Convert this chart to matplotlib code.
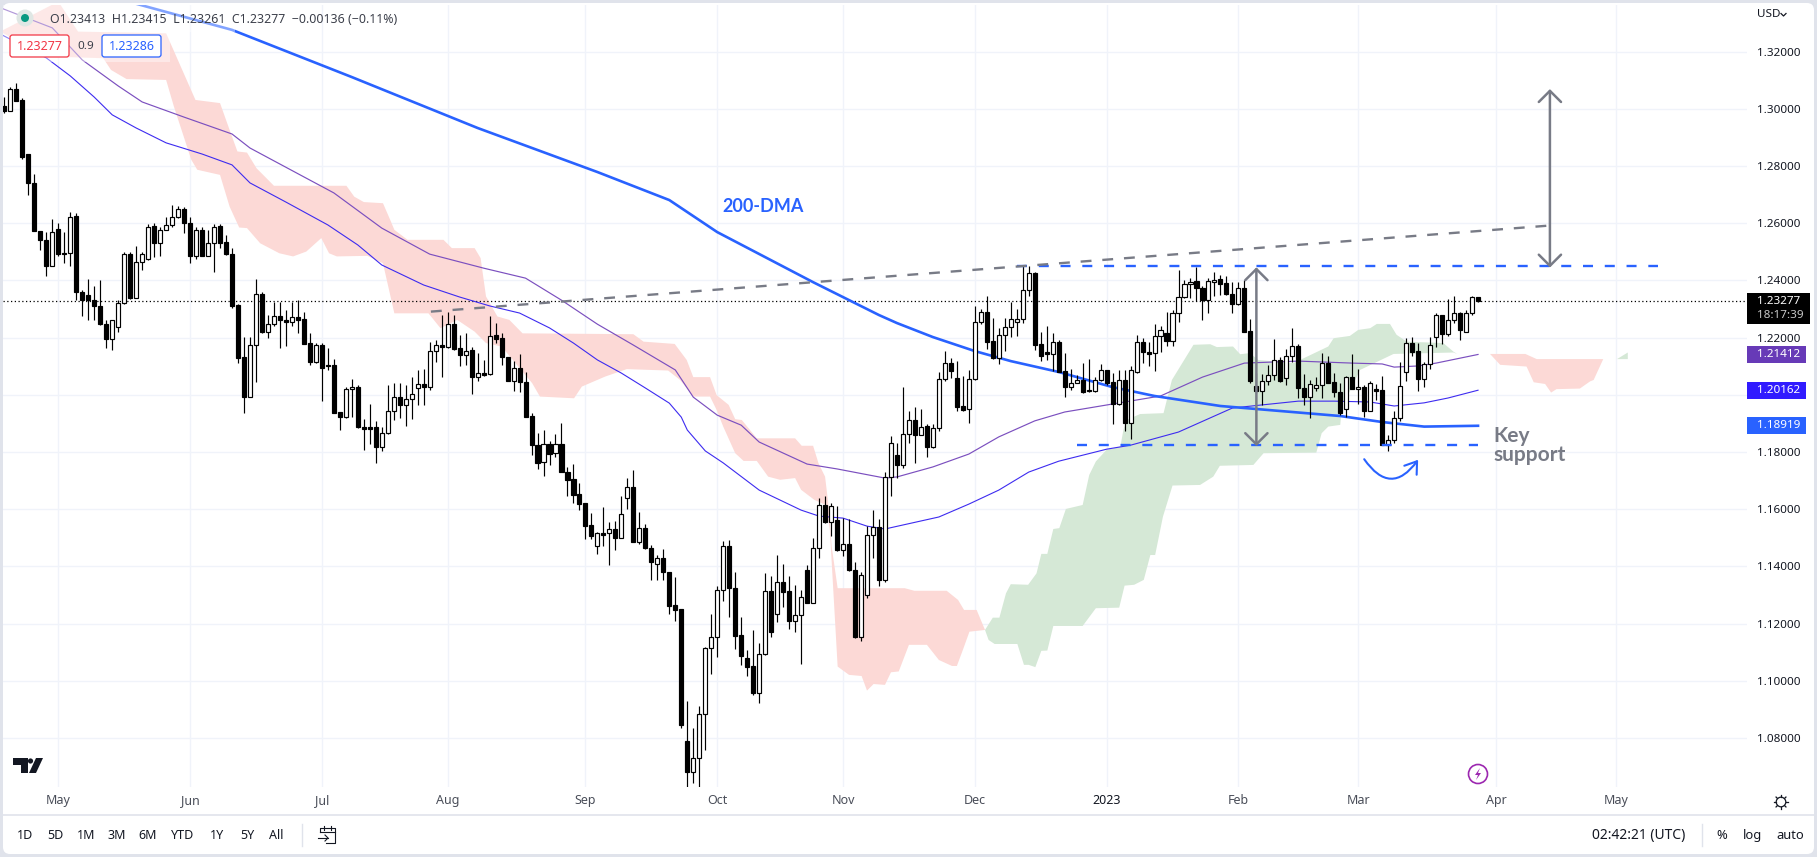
import numpy as np
import matplotlib
matplotlib.use("Agg")
import matplotlib.pyplot as plt
from matplotlib.patches import Rectangle, FancyBboxPatch, Circle, Polygon

plt.rcParams['font.family'] = ['Noto Sans', 'DejaVu Sans']

# daily candles, index 0 is 2 May 2022
first_bar = -9
opens = [1.3010,1.2994,1.3069,1.3031,1.2843,1.2741,1.2572,1.2542,1.2452,1.2579,
 1.2495,1.2495,1.2625,1.2360,1.2348,1.2330,1.2311,1.2248,1.2197,1.2236,
 1.2320,1.2492,1.2337,1.2466,1.2475,1.2591,1.2530,1.2577,1.2595,1.2623,
 1.2650,1.2600,1.2484,1.2577,1.2487,1.2530,1.2591,1.2534,1.2492,1.2315,
 1.2132,1.1994,1.2174,1.2351,1.2218,1.2247,1.2274,1.2262,1.2256,1.2271,
 1.2264,1.2181,1.2116,1.2174,1.2105,1.2105,1.1939,1.1921,1.2020,1.2028,
 1.1887,1.1887,1.1887,1.1819,1.1866,1.1945,1.1992,1.1963,1.1985,1.2023,
 1.2037,1.2026,1.2153,1.2176,1.2169,1.2248,1.2164,1.2140,1.2157,1.2064,
 1.2076,1.2072,1.2208,1.2198,1.2132,1.2050,1.2093,1.2044,1.1926,1.1825,
 1.1765,1.1829,1.1796,1.1829,1.1732,1.1705,1.1653,1.1621,1.1545,1.1470,
 1.1516,1.1516,1.1530,1.1499,1.1639,1.1677,1.1487,1.1534,1.1464,1.1408,
 1.1429,1.1380,1.1266,1.1250,1.0790,1.0683,1.0730,1.0883,1.1114,1.1155,
 1.1317,1.1471,1.1324,1.1161,1.1079,1.1052,1.0959,1.1093,1.1313,1.1233,
 1.1346,1.1313,1.1211,1.1229,1.1388,1.1274,1.1464,1.1614,1.1557,1.1563,
 1.1456,1.1478,1.1388,1.1155,1.1299,1.1509,1.1537,1.1351,1.1712,1.1790,
 1.1753,1.1862,1.1912,1.1858,1.1892,1.1819,1.1883,1.2055,1.2111,1.2058,
 1.1961,1.1950,1.2055,1.2254,1.2289,1.2189,1.2128,1.2208,1.2236,1.2254,
 1.2264,1.2366,1.2425,1.2177,1.2149,1.2144,1.2184,1.2084,1.2029,1.2043,
 1.2051,1.2016,1.2015,1.2051,1.2086,1.2044,1.1967,1.2052,1.1901,1.2079,
 1.2184,1.2149,1.2146,1.2205,1.2215,1.2190,1.2285,1.2341,1.2387,1.2397,
 1.2373,1.2333,1.2396,1.2404,1.2390,1.2352,1.2317,1.2373,1.2222,1.2031,
 1.2015,1.2047,1.2069,1.2121,1.2058,1.2135,1.2170,1.2023,1.1991,1.2023,
 1.2034,1.2111,1.2044,1.2009,1.1950,1.2063,1.2020,1.2027,1.1942,1.2020,
 1.2017,1.1823,1.1841,1.1918,1.2079,1.2181,1.2153,1.2054,1.2107,1.2202,
 1.2278,1.2214,1.2261,1.2285,1.2219,1.2285,1.23413]
highs = [1.3043,1.3076,1.3090,1.3037,1.2843,1.2773,1.2572,1.2569,1.2614,1.2600,
 1.2569,1.2640,1.2635,1.2367,1.2404,1.2379,1.2402,1.2262,1.2260,1.2332,
 1.2501,1.2501,1.2522,1.2501,1.2598,1.2600,1.2588,1.2623,1.2665,1.2661,
 1.2656,1.2623,1.2586,1.2586,1.2577,1.2598,1.2598,1.2559,1.2515,1.2318,
 1.2204,1.2204,1.2404,1.2361,1.2280,1.2326,1.2326,1.2297,1.2326,1.2332,
 1.2291,1.2215,1.2181,1.2181,1.2163,1.2125,1.1939,1.2029,1.2055,1.2035,
 1.1915,1.1968,1.1907,1.1889,1.2035,1.2043,1.2041,1.2035,1.2062,1.2087,
 1.2090,1.2186,1.2192,1.2280,1.2291,1.2280,1.2210,1.2215,1.2169,1.2146,
 1.2122,1.2276,1.2250,1.2215,1.2132,1.2120,1.2143,1.2079,1.1936,1.1866,
 1.1877,1.1839,1.1864,1.1903,1.1746,1.1759,1.1693,1.1621,1.1586,1.1520,
 1.1607,1.1557,1.1559,1.1647,1.1710,1.1738,1.1592,1.1549,1.1475,1.1440,
 1.1461,1.1382,1.1362,1.1250,1.0930,1.0834,1.0912,1.1120,1.1234,1.1332,
 1.1489,1.1493,1.1380,1.1225,1.1108,1.1178,1.1132,1.1376,1.1365,1.1440,
 1.1409,1.1365,1.1336,1.1316,1.1405,1.1499,1.1639,1.1647,1.1621,1.1612,
 1.1569,1.1565,1.1417,1.1382,1.1540,1.1598,1.1565,1.1729,1.1856,1.1831,
 1.2029,1.1942,1.1959,1.1951,1.1899,1.1899,1.2081,1.2154,1.2128,1.2119,
 1.2066,1.2087,1.2311,1.2300,1.2346,1.2268,1.2233,1.2268,1.2326,1.2300,
 1.2449,1.2449,1.2431,1.2221,1.2239,1.2215,1.2192,1.2146,1.2090,1.2070,
 1.2111,1.2125,1.2064,1.2107,1.2087,1.2076,1.2087,1.2087,1.2101,1.2208,
 1.2198,1.2186,1.2248,1.2241,1.2288,1.2297,1.2437,1.2402,1.2408,1.2446,
 1.2379,1.2408,1.2428,1.2419,1.2414,1.2396,1.2396,1.2402,1.2264,1.2076,
 1.2073,1.2105,1.2196,1.2134,1.2160,1.2235,1.2178,1.2073,1.2052,1.2064,
 1.2146,1.2136,1.2076,1.2041,1.2066,1.2142,1.2091,1.2035,1.2047,1.2037,
 1.2066,1.1860,1.1942,1.2114,1.2198,1.2202,1.2181,1.2116,1.2202,1.2285,
 1.2280,1.2334,1.2346,1.2291,1.2297,1.2347,1.23415]
lows = [1.2985,1.2991,1.3026,1.2826,1.2699,1.2572,1.2505,1.2414,1.2449,1.2484,
 1.2460,1.2452,1.2332,1.2276,1.2262,1.2262,1.2245,1.2165,1.2157,1.2218,
 1.2318,1.2334,1.2337,1.2437,1.2472,1.2481,1.2484,1.2577,1.2588,1.2618,
 1.2565,1.2460,1.2474,1.2484,1.2484,1.2431,1.2513,1.2489,1.2303,1.2111,
 1.1936,1.1991,1.2044,1.2215,1.2200,1.2241,1.2163,1.2172,1.2241,1.2215,
 1.2178,1.2105,1.2113,1.1977,1.2087,1.1936,1.1877,1.1918,1.1924,1.1883,
 1.1808,1.1829,1.1761,1.1805,1.1862,1.1912,1.1918,1.1892,1.1915,1.1963,
 1.1965,1.2017,1.2116,1.2064,1.2163,1.2157,1.2102,1.2105,1.2003,1.2050,
 1.2066,1.2070,1.2181,1.2105,1.2047,1.2012,1.2009,1.1924,1.1790,1.1741,
 1.1718,1.1755,1.1784,1.1732,1.1648,1.1623,1.1598,1.1496,1.1496,1.1444,
 1.1470,1.1406,1.1458,1.1499,1.1601,1.1487,1.1479,1.1460,1.1351,1.1353,
 1.1353,1.1234,1.1211,1.0834,1.0625,1.0644,1.0625,1.0759,1.1024,1.1085,
 1.1280,1.1225,1.1112,1.1054,1.1017,1.0951,1.0924,1.1091,1.1153,1.1207,
 1.1257,1.1182,1.1172,1.1059,1.1271,1.1271,1.1431,1.1551,1.1505,1.1454,
 1.1437,1.1384,1.1151,1.1141,1.1291,1.1431,1.1333,1.1347,1.1648,1.1711,
 1.1743,1.1833,1.1763,1.1858,1.1781,1.1813,1.1875,1.2047,1.2060,1.1942,
 1.1945,1.1903,1.2051,1.2248,1.2161,1.2126,1.2108,1.2155,1.2202,1.2206,
 1.2250,1.2344,1.2157,1.2120,1.2122,1.2085,1.2081,1.1994,1.2017,1.2043,
 1.2006,1.2009,1.2009,1.2050,1.2035,1.1899,1.1963,1.1875,1.1845,1.2077,
 1.2113,1.2101,1.2085,1.2150,1.2171,1.2172,1.2256,1.2338,1.2338,1.2329,
 1.2262,1.2285,1.2346,1.2350,1.2350,1.2285,1.2315,1.2221,1.2043,1.2006,
 1.1963,1.2033,1.2052,1.2044,1.2033,1.2116,1.1988,1.1965,1.1918,1.2014,
 1.1988,1.2041,1.1994,1.1930,1.1924,1.2020,1.1968,1.1924,1.1942,1.1982,
 1.1823,1.1802,1.1831,1.1907,1.2047,1.2136,1.2012,1.2029,1.2091,1.2169,
 1.2178,1.2207,1.2250,1.2192,1.2219,1.2280,1.23261]
closes = [1.2994,1.3069,1.3029,1.2833,1.2740,1.2572,1.2540,1.2452,1.2569,1.2491,
 1.2491,1.2623,1.2358,1.2330,1.2330,1.2311,1.2246,1.2197,1.2260,1.2320,
 1.2492,1.2337,1.2466,1.2492,1.2588,1.2530,1.2577,1.2595,1.2623,1.2649,
 1.2600,1.2484,1.2577,1.2487,1.2530,1.2588,1.2531,1.2492,1.2312,1.2130,
 1.1994,1.2174,1.2351,1.2218,1.2247,1.2275,1.2260,1.2256,1.2271,1.2262,
 1.2178,1.2116,1.2174,1.2093,1.2101,1.1938,1.1921,1.2020,1.2027,1.1886,
 1.1882,1.1882,1.1819,1.1866,1.1945,1.1992,1.1963,1.1985,1.2002,1.2037,
 1.2026,1.2153,1.2176,1.2169,1.2248,1.2160,1.2140,1.2155,1.2064,1.2076,
 1.2070,1.2207,1.2197,1.2132,1.2050,1.2093,1.2044,1.1924,1.1823,1.1763,
 1.1829,1.1794,1.1829,1.1732,1.1703,1.1650,1.1619,1.1543,1.1505,1.1516,
 1.1510,1.1530,1.1499,1.1583,1.1677,1.1487,1.1534,1.1463,1.1414,1.1429,
 1.1379,1.1263,1.1248,1.0846,1.0683,1.0730,1.0883,1.1114,1.1153,1.1317,
 1.1471,1.1323,1.1158,1.1088,1.1050,1.0959,1.1093,1.1313,1.1172,1.1345,
 1.1312,1.1211,1.1229,1.1292,1.1274,1.1464,1.1614,1.1557,1.1611,1.1456,
 1.1478,1.1386,1.1154,1.1369,1.1509,1.1537,1.1351,1.1712,1.1831,1.1753,
 1.1862,1.1912,1.1858,1.1887,1.1819,1.1883,1.2055,1.2111,1.2085,1.1959,
 1.1947,1.2055,1.2254,1.2289,1.2186,1.2128,1.2208,1.2236,1.2264,1.2264,
 1.2366,1.2425,1.2175,1.2137,1.2144,1.2184,1.2081,1.2029,1.2043,1.2051,
 1.2010,1.2012,1.2051,1.2086,1.2041,1.1967,1.2051,1.1901,1.2086,1.2184,
 1.2149,1.2144,1.2205,1.2226,1.2190,1.2285,1.2341,1.2387,1.2396,1.2372,
 1.2333,1.2397,1.2403,1.2386,1.2351,1.2317,1.2373,1.2221,1.2049,1.2015,
 1.2047,1.2069,1.2121,1.2047,1.2135,1.2170,1.2023,1.1991,1.2037,1.2034,
 1.2111,1.2043,1.2009,1.1938,1.2063,1.2020,1.2027,1.1942,1.2041,1.2015,
 1.1823,1.1841,1.1918,1.2030,1.2181,1.2151,1.2054,1.2107,1.2174,1.2278,
 1.2214,1.2261,1.2285,1.2228,1.2285,1.2341,1.23277]

# moving averages
ma200_x = [12,29,49,70,90,96,102,110,126,137,140,146,153,159,167,176,183,194,206,214,221,228,237]
ma200_y = [1.3373,1.3276,1.3111,1.2933,1.2779,1.2730,1.2681,1.2569,1.2394,1.2279,1.2251,1.2202,1.2153,
           1.2118,1.2080,1.2027,1.1996,1.1961,1.1940,1.1926,1.1905,1.1889,1.18919]
ma100_x = [-10,-1,4,10,14,21,29,32,41,46,54,62,71,78,84,90,96,103,106,110,114,117,125,130,138,140,
           146,152,157,163,168,176,184,191,198,207,216,221,223,227,230,237]
ma100_y = [1.3356,1.3283,1.3171,1.3080,1.3024,1.2971,1.2912,1.2863,1.2762,1.2706,1.2583,1.2492,
           1.2443,1.2408,1.2331,1.2247,1.2174,1.2087,1.1992,1.1929,1.1894,1.1835,1.1758,1.1741,
           1.1709,1.1713,1.1748,1.1793,1.1853,1.1909,1.1940,1.1968,1.1996,1.2062,1.2111,1.2118,
           1.2111,1.2108,1.2097,1.2101,1.2111,1.21412]
ma50_x = [-10,-2,2,6,9,13,18,24,29,32,38,45,50,54,61,67,72,77,82,86,90,94,98,102,104,105,108,111,
          117,124,127,131,135,138,147,152,157,162,167,175,179,187,196,207,213,219,223,228,232,237]
ma50_y = [1.3265,1.3178,1.3115,1.3041,1.2979,1.2933,1.2881,1.2842,1.2804,1.2741,1.2674,1.2594,
          1.2524,1.2454,1.2384,1.2342,1.2311,1.2286,1.2234,1.2181,1.2122,1.2076,1.2024,1.1971,
          1.1922,1.1877,1.1804,1.1762,1.1667,1.1597,1.1576,1.1569,1.1541,1.1531,1.1573,1.1618,
          1.1667,1.1730,1.1768,1.1810,1.1824,1.1870,1.1954,1.1978,1.1978,1.1975,1.1961,1.1972,
          1.1989,1.20162]

# ichimoku cloud outlines
red1_up_x = [0,3.3,18,21.3,22.9,27,28.6,29.9,31.5,33.1,36,48.1,49.4,51,54.2,55.4,56.1,58.3,64.3,65.7,
             69.5,70.5,71.4,73.3,75.3,77.5,90.4,96,97.7,102.9,104.9,106,108.8,109.9,111.9,113,114.1,
             116.6,123,124.1,126,126.9,128,128.6,129.1,130.1,141.3,142.9,148.3,150.2,151.2,153.3,154.7]
red1_up_y = [1.3375,1.3270,1.3264,1.3107,1.3031,1.3020,1.2926,1.2851,1.2847,1.2792,1.2731,1.2731,1.2693,
             1.2674,1.2670,1.2612,1.2577,1.2542,1.2542,1.2513,1.2513,1.2478,1.2344,1.2274,1.2262,1.2215,
             1.2213,1.2212,1.2186,1.2178,1.2122,1.2062,1.2062,1.1999,1.1965,1.1915,1.1912,1.1848,1.1848,
             1.1822,1.1822,1.1761,1.1714,1.1609,1.1470,1.1324,1.1324,1.1315,1.1315,1.1283,1.1248,1.1248,
             1.1178]
red1_lo_x = [-9.7,-2,7.5,8.8,11.4,18,19.3,22.2,23.2,27,28.6,30.2,31.5,33.7,36.9,39.2,41.4,43.9,45.2,46.5,
             51.6,54.2,56.1,61.8,63.8,66.6,69.5,71.4,74,79.1,80.4,86.1,87.4,91.3,94.9,101.8,103.8,106,
             108.8,109.9,111,113,114.4,116.6,118.5,120.5,123,124,126.2,128.1,128.8,130.1,132,134.1,135,
             136.1,138,139,140.3,142,145,147,149.2,150,151,152.1,154.7]
red1_lo_y = [1.3270,1.3183,1.3177,1.3136,1.3104,1.3101,1.3008,1.2822,1.2787,1.2769,1.2658,1.2585,1.2583,
             1.2530,1.2495,1.2484,1.2501,1.2548,1.2495,1.2484,1.2486,1.2460,1.2285,1.2285,1.2233,1.2262,
             1.2221,1.2181,1.2169,1.2041,1.1994,1.1988,1.2029,1.2064,1.2090,1.2085,1.2052,1.1994,1.1994,
             1.1947,1.1889,1.1796,1.1769,1.1769,1.1714,1.1703,1.1709,1.1668,1.1633,1.1615,1.1528,1.1050,
             1.1021,1.1017,1.0966,1.0989,1.0986,1.1030,1.1033,1.1126,1.1126,1.1073,1.1052,1.1052,1.1108,
             1.1172,1.1178]
green_up_x = [154.7,156,157.1,158.2,159,161.9,163.3,164.1,165.1,166.1,167.1,168.2,171,172.1,173.2,175,177.3,
              177.8,178.3,180.6,184.5,185.9,189.5,192.3,193.4,196.1,197.3,198.9,200.3,206.2,212,212.9,215.6,
              217,219,220.1,222.3,223.4,225.1,231.2,232.9,233.5]
green_up_y = [1.1178,1.1221,1.1221,1.1306,1.1338,1.1336,1.1376,1.1444,1.1444,1.1531,1.1534,1.1601,1.1615,
              1.1720,1.1767,1.1808,1.1819,1.1877,1.1912,1.1933,1.1936,1.2052,1.2175,1.2177,1.2167,1.2169,
              1.2142,1.2146,1.2122,1.2111,1.2169,1.2198,1.2206,1.2227,1.2233,1.2248,1.2248,1.2210,1.2186,
              1.2181,1.2151,1.2143]
green_lo_x = [154.7,155.3,156.3,160.1,161.2,162,163.1,164.1,165.1,166.1,171,173.2,177.1,178,179.6,181.2,182.3,
              183.1,184.4,186,190.6,192.8,193.9,199.5,201.2,210,210.9,212,214,214.3,215.6,217.3,222.9,232.9,233.5]
green_lo_y = [1.1178,1.1143,1.1129,1.1129,1.1056,1.1056,1.1048,1.1105,1.1106,1.1192,1.1192,1.1254,1.1256,
              1.1333,1.1336,1.1353,1.1440,1.1440,1.1574,1.1683,1.1685,1.1714,1.1752,1.1755,1.1796,1.1798,
              1.1866,1.1889,1.1895,1.1971,1.2012,1.2087,1.2143,1.2148,1.2143]
red2_x = [233.5,234.6,244.9,246.8,257.9,256.3,255.7,254,250.1,249.2,248.2,246.3,245.1,240.7,239]
red2_y = [1.2143,1.2143,1.2143,1.2125,1.2125,1.2052,1.2047,1.2022,1.2020,1.2008,1.2038,1.2044,1.2099,1.2105,1.2143]
green2_x = [260.2,262,262]
green2_y = [1.2125,1.2148,1.2125]

# axis ticks
price_ticks = [1.08,1.10,1.12,1.14,1.16,1.18,1.20,1.22,1.24,1.26,1.28,1.30,1.32]
month_pos = [0,22,44,65,88,110,131,153,175,197,217,240,260]
month_names = ['May','Jun','Jul','Aug','Sep','Oct','Nov','Dec','2023','Feb','Mar','Apr','May']

# drawn levels
resistance = 1.2449
support = 1.1825
last_price = 1.23277
ma_last = [1.21412, 1.20162, 1.18919]
ma_last_colors = ['#673ab7', '#311bff', '#2962ff']

TXT = '#131722'
GRAY = '#787b86'
BLUE = '#2962ff'
W, H = 1817, 857

fig = plt.figure(figsize=(W/100, H/100), dpi=100, facecolor='#e0e3eb')

# panel behind everything, in pixels
bg = fig.add_axes([0, 0, 1, 1], zorder=0)
bg.set_xlim(0, W)
bg.set_ylim(H, 0)
bg.axis('off')
bg.add_patch(FancyBboxPatch((3, 3), W-6, H-6, boxstyle='round,pad=0,rounding_size=7', fc='white', ec='none'))
bg.plot([3, W-3], [815, 815], color='#e0e3eb', lw=1.2)

ax = fig.add_axes([3/W, (H-786.7)/H, 1744/W, 781.7/H], zorder=1, facecolor='none')
ax.set_xlim(-9.23, 281.9)
ax.set_ylim(1.0630, 1.3363)
for s in ax.spines.values():
    s.set_visible(False)

ax.set_yticks(price_ticks)
ax.set_yticklabels([f"{p:.5f}" for p in price_ticks])
ax.yaxis.tick_right()
ax.set_xticks(month_pos)
ax.set_xticklabels(month_names)
ax.tick_params(axis='y', length=0, pad=7, labelsize=8.4, labelcolor=TXT)
ax.tick_params(axis='x', length=0, pad=5.5, labelsize=9, labelcolor='#4a4e59')
ax.get_xticklabels()[8].set_color(TXT)
ax.grid(True, color='#f0f3fa', lw=1.0, zorder=0)
ax.set_axisbelow(True)

# clouds
ax.fill(red1_up_x + red1_lo_x[::-1], red1_up_y + red1_lo_y[::-1], color='#fcd9d6', lw=0, zorder=1)
ax.fill(green_up_x + green_lo_x[::-1], green_up_y + green_lo_y[::-1], color='#d5e8d6', lw=0, zorder=1)
ax.fill(red2_x, red2_y, color='#fcd9d6', lw=0, zorder=1)
ax.fill(green2_x, green2_y, color='#d5e8d6', lw=0, zorder=1)

ax.axhline(last_price, color='black', lw=0.9, ls=(0, (1, 2)), zorder=2)

# averages
ax.plot(ma50_x, ma50_y, color='#3d2bf0', lw=0.8, zorder=3, solid_joinstyle='round')
ax.plot(ma100_x, ma100_y, color='#7b4fbf', lw=0.85, zorder=3, solid_joinstyle='round')
ax.plot(ma200_x, ma200_y, color=BLUE, lw=1.9, zorder=3, solid_joinstyle='round')

# candles
bars = np.arange(first_bar, first_bar + len(closes))
o = np.array(opens)
c = np.array(closes)
ax.vlines(bars, lows, highs, color='black', lw=0.85, zorder=4)
colors = ['black' if a > b else 'white' for a, b in zip(o, c)]
ax.bar(bars, np.abs(c - o), bottom=np.minimum(o, c), width=0.68, color=colors, edgecolor='black', lw=0.85, zorder=5)

# drawings
ax.plot([160, 267], [resistance, resistance], color=BLUE, lw=1.7, ls=(0, (4.24, 4.98)), zorder=6)
ax.plot([170, 237], [support, support], color=BLUE, lw=1.7, ls=(0, (4.24, 4.98)), zorder=6)
ax.plot([62.2, 249], [1.2291, 1.2592], color=GRAY, lw=1.7, ls=(0, (4.6, 4.6)), zorder=6)
arrow = dict(arrowstyle='<->,head_length=0.8,head_width=0.8', color=GRAY, lw=1.8, shrinkA=0, shrinkB=0,
             mutation_scale=10, zorder=7)
ax.annotate('', xy=(200, 1.2446), xytext=(200, 1.1821), arrowprops=arrow, zorder=7)
ax.annotate('', xy=(249, 1.3069), xytext=(249, 1.2445), arrowprops=arrow, zorder=7)
ax.annotate('', xy=(227, 1.1773), xytext=(218, 1.1775), zorder=7,
            arrowprops=dict(arrowstyle='->,head_length=0.8,head_width=0.55', color=BLUE, lw=1.5, shrinkA=0, shrinkB=0,
                            mutation_scale=10, connectionstyle='arc3,rad=0.7'))
ax.text(110.8, 1.2657, '200-DMA', color=BLUE, fontsize=13, fontweight='bold', family='Lato', va='center', zorder=8)
ax.text(239.5, 1.1891, 'Key\nsupport', color=GRAY, fontsize=15, fontweight='bold', family='Lato',
        va='top', linespacing=0.95, zorder=8)

# chrome on top
fg = fig.add_axes([0, 0, 1, 1], zorder=5, facecolor='none')
fg.set_xlim(0, W)
fg.set_ylim(H, 0)
fg.axis('off')

fg.add_patch(Rectangle((3, 5), 232, 27, fc='white', ec='none', alpha=0.42))
fg.add_patch(Rectangle((3, 32), 167, 30, fc='white', ec='none', alpha=0.42))

# value boxes on the price scale
for val, col in zip(ma_last, ma_last_colors):
    yp = H - ax.transData.transform((0, val))[1]
    fg.add_patch(Rectangle((1747, yp-8.5), 59, 17, fc=col, ec='none'))
    fg.text(1757, yp, f"{val:.5f}", color='white', fontsize=8.4, fontweight='bold', va='center')

fg.add_patch(Rectangle((1747, 293), 63, 30.5, fc='black', ec='none'))
fg.text(1757, 301.5, f"{last_price:.5f}", color='white', fontsize=8.4, fontweight='bold', va='center')
fg.text(1757, 316, '18:17:39', color='#c8c8c8', fontsize=8.4, fontweight='bold', va='center')

fg.text(1757, 14.5, 'USD', color=TXT, fontsize=8.4, va='center')
fg.plot([1781, 1783.5, 1786], [13.5, 16, 13.5], color=TXT, lw=0.9)

# header
fg.add_patch(Circle((25, 18), 8.5, fc='#dfe7e4', ec='none'))
fg.add_patch(Circle((25, 18), 4, fc='#089981', ec='none'))
fg.text(50, 19.5, 'O1.23413  H1.23415  L1.23261  C1.23277  \u22120.00136 (\u22120.11%)', color='#3b3f4a',
        fontsize=8.9, va='center')
fg.add_patch(FancyBboxPatch((10, 35), 59, 22, boxstyle='round,pad=0,rounding_size=2.5', fc='white', ec='#f23645', lw=0.9))
fg.text(39.5, 46, '1.23277', color='#f23645', fontsize=9, ha='center', va='center')
fg.text(86, 46, '0.9', color='#3b3f4a', fontsize=8.4, ha='center', va='center')
fg.add_patch(FancyBboxPatch((102, 35), 59, 22, boxstyle='round,pad=0,rounding_size=2.5', fc='white', ec=BLUE, lw=0.9))
fg.text(131.5, 46, '1.23286', color=BLUE, fontsize=9, ha='center', va='center')

# tradingview mark
fg.add_patch(Polygon([(13, 758), (28, 758), (28, 773), (21, 773), (21, 765), (13, 765)], fc='#131722', ec='none'))
fg.add_patch(Circle((30.5, 761), 2.6, fc='#131722', ec='none'))
fg.add_patch(Polygon([(36, 758), (43, 758), (36, 773), (29, 773)], fc='#131722', ec='none'))

# lightning marker
fg.add_patch(Circle((1478, 774), 9.5, fc='white', ec='#9c27b0', lw=1.2))
fg.add_patch(Polygon([(1480, 768), (1475, 775), (1478, 775), (1476, 780), (1481, 773), (1478, 773)], fc='#9c27b0', ec='none'))

# settings wheel
fg.add_patch(Circle((1781, 802), 4.8, fc='white', ec=TXT, lw=0.9))
for a in np.arange(0, 2*np.pi, np.pi/4):
    fg.plot([1781+4.8*np.cos(a), 1781+7*np.cos(a)], [802+4.8*np.sin(a), 802+7*np.sin(a)], color=TXT, lw=0.9)

# bottom bar
ranges = ['1D', '5D', '1M', '3M', '6M', 'YTD', '1Y', '5Y', 'All']
range_x = [25, 55, 86, 117, 148, 183, 217, 247, 276]
for name, xp in zip(ranges, range_x):
    fg.text(xp, 835.5, name, color=TXT, fontsize=9, ha='center', va='center')
fg.plot([301.7, 301.7], [824, 846], color='#e0e3eb', lw=1)
fg.plot([1702, 1702], [824, 846], color='#e0e3eb', lw=1)
fg.plot([320, 320, 335, 335, 326], [832, 828, 828, 843, 843], color=TXT, lw=0.8)
fg.plot([320, 335], [831.5, 831.5], color=TXT, lw=0.8)
fg.plot([324, 324], [826, 830], color=TXT, lw=0.8)
fg.plot([331, 331], [826, 830], color=TXT, lw=0.8)
fg.plot([318, 328], [838, 838], color=TXT, lw=0.8)
fg.plot([325, 328, 325], [835, 838, 841], color=TXT, lw=0.8)
fg.text(1592, 835.5, '02:42:21 (UTC)', color=TXT, fontsize=10, va='center')
fg.text(1722, 835.5, '%', color=TXT, fontsize=9.3, ha='center', va='center')
fg.text(1753, 835.5, 'log', color=TXT, fontsize=9.3, ha='center', va='center')
fg.text(1790, 835.5, 'auto', color=TXT, fontsize=9.3, ha='center', va='center')

fig.savefig('out.png', dpi=100, facecolor=fig.get_facecolor())
